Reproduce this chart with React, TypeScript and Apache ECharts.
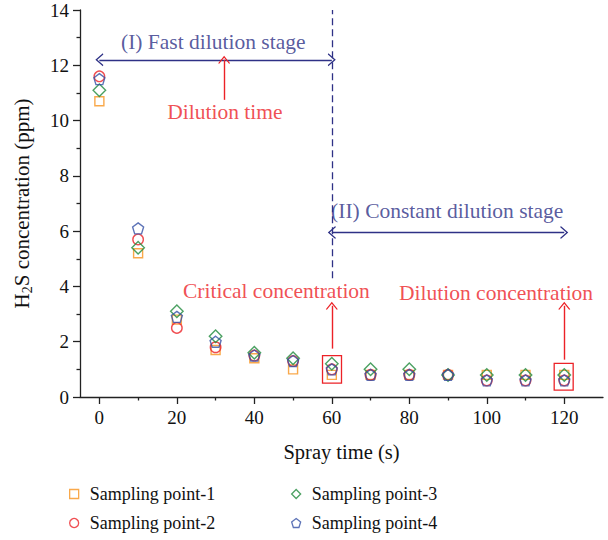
import React, { useEffect, useRef } from 'react';
import * as echarts from 'echarts';

const FONT = '"Liberation Serif", "Times New Roman", serif';

const seriesNames = ['Sampling point-1', 'Sampling point-2', 'Sampling point-3', 'Sampling point-4'];
const sprayTime = [0, 10, 20, 30, 40, 50, 60, 70, 80, 90, 100, 110, 120];
const point1 = [10.7, 5.2, 2.8, 1.7, 1.4, 1.0, 0.8, 0.8, 0.8, 0.8, 0.8, 0.8, 0.8];
const point2 = [11.6, 5.7, 2.5, 1.8, 1.5, 1.3, 1.0, 0.8, 0.8, 0.8, 0.6, 0.6, 0.6];
const point3 = [11.1, 5.4, 3.1, 2.2, 1.6, 1.4, 1.2, 1.0, 1.0, 0.8, 0.8, 0.8, 0.8];
const point4 = [11.5, 6.1, 2.9, 2.0, 1.5, 1.3, 1.0, 0.8, 0.8, 0.8, 0.6, 0.6, 0.6];
const xMajorTicks = [0, 20, 40, 60, 80, 100, 120];
const xMinorTicks = [10, 30, 50, 70, 90, 110];

// annotation anchors (data units)
const stageOneArrow = [[0, 12.2], [60, 12.2]];
const stageTwoArrow = [[60, 5.95], [120, 5.95]];
const criticalLine = [[60, 4.3], [60, 14]];
const redArrows = [
  [[32.2, 10.75], [32.2, 12.2]],
  [[60, 1.75], [60, 3.3]],
  [[120, 1.35], [120, 3.3]],
];
const boxes = [
  [[57.6, 0.5], [62.5, 1.5]],
  [[117.4, 0.25], [122.3, 1.22]],
];
const notes = [
  { text: '(I) Fast dilution stage', at: [29.4, 12.85], tone: 'navy' },
  { text: 'Dilution time', at: [32.4, 10.32], tone: 'red' },
  { text: '(II) Constant dilution stage', at: [89.8, 6.73], tone: 'navy' },
  { text: 'Critical concentration', at: [45.7, 3.85], tone: 'red' },
  { text: 'Dilution concentration', at: [102.4, 3.75], tone: 'red' },
];

const ORANGE = '#f7931e';
const RED = '#ec2227';
const GREEN = '#1f8a3c';
const BLUE = '#3450a5';
const NAVY = '#2e3186';
const AXIS = '#222';

const PENTAGON = 'path://M5,0 L10,3.8 L8.1,10 L1.9,10 L0,3.8 Z';
const CHEVRON = 'path://M5,0 L10,8 L9.1,8.6 L5,2.1 L0.9,8.6 L0,8 Z';

function scatter(name: string, values: number[], symbol: string, size: number, color: string) {
  return {
    name,
    type: 'scatter',
    symbol,
    symbolSize: size,
    data: sprayTime.map((t, i) => [t, values[i]]),
    itemStyle: { color: 'rgba(255,255,255,0)', borderColor: color, borderWidth: 1.4 },
    emphasis: { disabled: true },
    silent: true,
  };
}

function legendBlock(names: string[], left: number) {
  return {
    data: names,
    orient: 'vertical',
    left,
    top: 485,
    padding: 0,
    itemWidth: 9,
    itemHeight: 9,
    itemGap: 11,
    itemStyle: { borderWidth: 1.3 },
    textStyle: { fontFamily: FONT, fontSize: 18, color: '#111', lineHeight: 18, padding: [0, 0, 0, 6] },
    selectedMode: false,
  };
}

export default function App() {
  const ref = useRef<HTMLDivElement>(null);
  useEffect(() => {
    const chart = echarts.init(ref.current!, null, { renderer: 'svg' });
    const option: any = {
      animation: false,
      backgroundColor: '#fff',
      textStyle: { fontFamily: FONT },
      grid: { left: 80, right: 5, top: 10, bottom: 143, outerBoundsMode: 'none', containLabel: false },
      legend: [legendBlock([seriesNames[0], seriesNames[1]], 69), legendBlock([seriesNames[2], seriesNames[3]], 291)],
      xAxis: [
        {
          type: 'value',
          min: -5,
          max: 130,
          name: 'Spray time (s)',
          nameLocation: 'middle',
          nameGap: 44,
          nameTextStyle: { fontFamily: FONT, fontSize: 20.5, color: '#111' },
          axisLine: { onZero: false, lineStyle: { color: AXIS, width: 1.3 } },
          axisTick: { show: true, length: 7, customValues: xMajorTicks, lineStyle: { color: AXIS, width: 1.3 } },
          axisLabel: { customValues: xMajorTicks, margin: 11, fontFamily: FONT, fontSize: 19, color: '#111' },
          splitLine: { show: false },
        },
        {
          type: 'value',
          min: -5,
          max: 130,
          position: 'bottom',
          axisLine: { show: false, onZero: false },
          axisTick: { show: true, length: 3.5, customValues: xMinorTicks, lineStyle: { color: AXIS, width: 1.3 } },
          axisLabel: { show: false },
          splitLine: { show: false },
        },
      ],
      yAxis: {
        type: 'value',
        min: 0,
        max: 14,
        interval: 2,
        name: '{a|H}{s|2}{a|S concentration (ppm)}',
        nameLocation: 'middle',
        nameGap: 46,
        nameTextStyle: {
          fontFamily: FONT,
          fontSize: 21,
          color: '#111',
          rich: {
            a: { fontFamily: FONT, fontSize: 21, color: '#111', lineHeight: 24, verticalAlign: 'middle' },
            s: { fontFamily: FONT, fontSize: 14, color: '#111', lineHeight: 14, verticalAlign: 'bottom' },
          },
        },
        axisLine: { show: true, onZero: false, lineStyle: { color: AXIS, width: 1.3 } },
        axisTick: { show: true, length: 7, lineStyle: { color: AXIS, width: 1.3 } },
        minorTick: { show: true, splitNumber: 2, length: 3.5, lineStyle: { color: AXIS, width: 1.3 } },
        axisLabel: { margin: 11, fontFamily: FONT, fontSize: 19, lineHeight: 18, color: '#111' },
        splitLine: { show: false },
        minorSplitLine: { show: false },
      },
      series: [
        scatter(seriesNames[0], point1, 'rect', 9, ORANGE),
        scatter(seriesNames[1], point2, 'circle', 10.5, RED),
        scatter(seriesNames[2], point3, 'diamond', 12.5, GREEN),
        scatter(seriesNames[3], point4, PENTAGON, 11, BLUE),
        {
          name: 'navyArrows',
          type: 'scatter',
          data: [],
          silent: true,
          markLine: {
            silent: true,
            symbol: [CHEVRON, CHEVRON],
            symbolSize: [13, 8],
            label: { show: false },
            lineStyle: { color: NAVY, width: 1.4, type: 'solid' },
            emphasis: { disabled: true },
            data: [stageOneArrow, stageTwoArrow].map((seg) => [{ coord: seg[0] }, { coord: seg[1] }]),
          },
        },
        {
          name: 'criticalLine',
          type: 'scatter',
          data: [],
          silent: true,
          markLine: {
            silent: true,
            symbol: ['none', 'none'],
            label: { show: false },
            lineStyle: { color: NAVY, width: 1.3, type: [7, 4] },
            emphasis: { disabled: true },
            data: [[{ coord: criticalLine[0] }, { coord: criticalLine[1] }]],
          },
        },
        {
          name: 'redArrows',
          type: 'scatter',
          data: [],
          silent: true,
          markLine: {
            silent: true,
            symbol: ['none', CHEVRON],
            symbolSize: [12, 8],
            label: { show: false },
            lineStyle: { color: RED, width: 1.4, type: 'solid' },
            emphasis: { disabled: true },
            data: redArrows.map((seg) => [{ coord: seg[0] }, { coord: seg[1] }]),
          },
          markArea: {
            silent: true,
            itemStyle: { color: 'rgba(255,255,255,0)', borderColor: RED, borderWidth: 1.3 },
            label: { show: false },
            emphasis: { disabled: true },
            data: boxes.map((b) => [{ coord: b[0] }, { coord: b[1] }]),
          },
        },
        {
          name: 'notes',
          type: 'scatter',
          symbolSize: 0,
          silent: true,
          itemStyle: { color: 'rgba(0,0,0,0)' },
          data: notes.map((n) => ({
            value: n.at,
            name: n.text,
            label: {
              show: true,
              position: 'inside',
              formatter: n.text,
              fontFamily: FONT,
              fontSize: 21.5,
              color: n.tone === 'navy' ? NAVY : RED,
            },
          })),
        },
      ],
    };
    chart.setOption(option);
    return () => chart.dispose();
  }, []);
  return <div ref={ref} style={{ position: 'fixed', left: 0, top: 0, width: 608, height: 540 }} />;
}
